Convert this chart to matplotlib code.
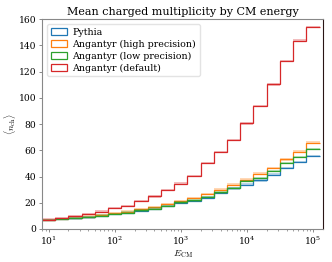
import numpy as np
import matplotlib
matplotlib.use('Agg')
import matplotlib.pyplot as plt
from matplotlib.patches import Rectangle

plt.rcParams['font.family'] = ['DejaVu Serif']
plt.rcParams['mathtext.fontset'] = 'cm'

# bin edges in log10(E_CM), 0.2 decade wide
log_edges = [0.9, 1.1, 1.3, 1.5, 1.7, 1.9, 2.1, 2.3, 2.5, 2.7, 2.9,
             3.1, 3.3, 3.5, 3.7, 3.9, 4.1, 4.3, 4.5, 4.7, 4.9, 5.1]

pythia = [6.9, 7.6, 8.1, 8.8, 9.9, 11.2, 12.2, 13.7, 15.3, 17.4, 19.8,
          21.5, 24.0, 27.6, 30.9, 33.8, 37.0, 41.5, 46.7, 51.0, 55.6]
high = [6.9, 7.7, 8.5, 9.5, 10.8, 12.1, 13.3, 15.1, 16.4, 19.2, 21.5,
        23.6, 26.9, 30.0, 33.8, 37.7, 42.3, 46.7, 53.0, 59.0, 65.9]
low = [6.9, 7.6, 8.2, 9.0, 10.2, 11.5, 12.5, 14.1, 15.6, 17.7, 20.2,
       21.8, 24.4, 27.9, 31.3, 36.4, 39.0, 44.0, 50.5, 54.8, 60.8]
default = [7.2, 8.5, 9.7, 11.5, 13.3, 15.9, 17.7, 21.3, 24.8, 29.5, 34.6,
           40.5, 50.5, 58.7, 67.7, 80.5, 94.0, 110.2, 128.2, 143.6, 154.0]

labels = ['Pythia', 'Angantyr (high precision)', 'Angantyr (low precision)', 'Angantyr (default)']
colors = ['#1f77b4', '#ff7f0e', '#2ca02c', '#d62728']

edges = 10 ** np.array(log_edges)

fig, ax = plt.subplots(figsize=(3.32, 2.62), dpi=100)
for vals, lab, col in zip([pythia, high, low, default], labels, colors):
    v = np.array(vals)
    ax.stairs(v, edges, color=col, lw=0.9, label=lab, baseline=None)
    # small uncertainty band
    ax.stairs(v + 0.9, edges, baseline=v - 0.9, fill=True, color=col, alpha=0.3, lw=0)

ax.set_xscale('log')
ax.set_xlim(8, 1.42e5)
ax.set_ylim(0, 160)
ax.set_yticks(range(0, 161, 20))
ax.set_title('Mean charged multiplicity by CM energy', fontsize=8, pad=3)
ax.set_xlabel(r'$E_{\mathrm{CM}}$', fontsize=7, labelpad=1)
ax.set_ylabel(r'$\langle n_{\mathrm{ch}}\rangle$', fontsize=6.5, labelpad=1)
ax.tick_params(labelsize=6.6, length=2.5, width=0.6, pad=1.5, color='#777777')
ax.tick_params(which='minor', length=1.5, width=0.5, color='#777777')
for s in ax.spines.values():
    s.set_color('#888888')
    s.set_linewidth(0.8)
ax.spines['right'].set_color('#2a1515')

handles = [Rectangle((0, 0), 1, 1, fill=False, edgecolor=c, lw=0.9) for c in colors]
ax.legend(handles, labels, loc='upper left', fontsize=6.8, handlelength=1.7,
          handleheight=0.7, labelspacing=0.3, borderpad=0.4, handletextpad=0.6,
          framealpha=0.8, edgecolor='#dddddd')

fig.subplots_adjust(left=0.127, right=0.973, top=0.927, bottom=0.126)
fig.savefig('out.png', dpi=100)
